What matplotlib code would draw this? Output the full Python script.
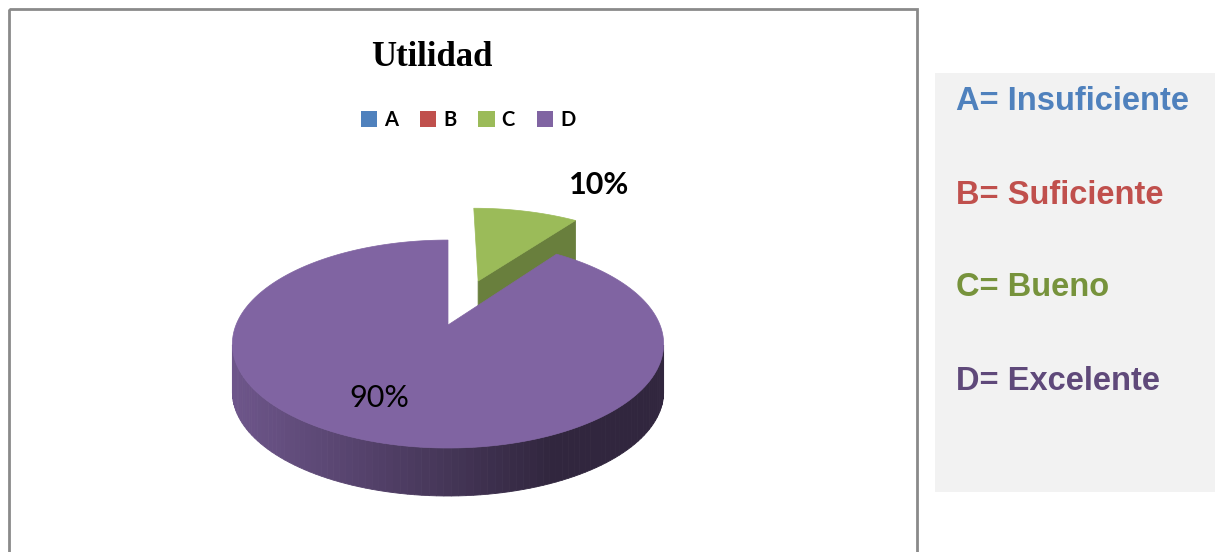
import matplotlib.pyplot as plt
from matplotlib.patches import Polygon, Rectangle, Patch
import numpy as np

# data
categories = ['A', 'B', 'C', 'D']
values = [0, 0, 10, 90]
explode = [0, 0, 0.5, 0]
colors = ['#4F81BD', '#C0504D', '#9BBB59', '#8064A2']
title = 'Utilidad'
key_labels = ['A= Insuficiente', 'B= Suficiente', 'C= Bueno', 'D= Excelente']
key_colors = ['#4F81BD', '#C0504D', '#77933C', '#5F497A']

# 3d pie geometry (pixel space)
cx, cy = 448, 325
A, B, k = 212, 100.5, 0.183
depth = 48


def proj(u, v):
    w = 1 + k * v
    return cx + A * u / w, cy - B * v / w


def shade(c, f):
    c = np.array(plt.matplotlib.colors.to_rgb(c))
    return tuple(np.clip(c * f, 0, 1))


fig = plt.figure(figsize=(12.15, 5.52), dpi=100)
ax = fig.add_axes([0, 0, 1, 1])
ax.set_xlim(0, 1215)
ax.set_ylim(552, 0)
ax.axis('off')

# chart frame and side panel
ax.add_patch(Rectangle((9, 9), 908, 560, fill=False, ec='#8a8a8a', lw=2))
ax.add_patch(Rectangle((935, 73), 290, 419, fc='#f2f2f2', ec='none'))

total = sum(values)
start = 0.0
slices = []
for cat, val, ex, col in zip(categories, values, explode, colors):
    if val == 0:
        continue
    sweep = 360.0 * val / total
    slices.append((cat, val, ex, col, start, start + sweep))
    start += sweep

# far slices first
slices.sort(key=lambda s: -np.cos(np.radians((s[4] + s[5]) / 2)) * (1 + s[2]))

for cat, val, ex, col, a0, a1 in slices:
    mid = np.radians((a0 + a1) / 2)
    ou, ov = ex * np.sin(mid), ex * np.cos(mid)
    th = np.radians(np.linspace(a0, a1, 200))
    us, vs = ou + np.sin(th), ov + np.cos(th)
    top = [proj(u, v) for u, v in zip(us, vs)]
    apex = proj(ou, ov)

    # outer side, only the front part
    for i in range(len(th) - 1):
        if np.cos(th[i]) < -k and np.cos(th[i + 1]) < -k:
            x0, y0 = top[i]
            x1, y1 = top[i + 1]
            t = np.clip(((x0 + x1) / 2 - (cx - A)) / (A * 1.5), 0, 1)
            c = shade(col, 0.85 - 0.47 * t)
            ax.add_patch(Polygon([(x0, y0), (x1, y1), (x1, y1 + depth), (x0, y0 + depth)],
                                 closed=True, fc=c, ec=c, lw=0.6))

    # radial face at end edge
    if -np.sin(th[-1]) < -1e-6:
        ex_, ey_ = top[-1]
        c = shade(col, 0.68)
        ax.add_patch(Polygon([apex, (ex_, ey_), (ex_, ey_ + depth), (apex[0], apex[1] + depth)],
                             closed=True, fc=c, ec=c, lw=0.6))
    # radial face at start edge
    if np.sin(th[0]) < -1e-6:
        sx_, sy_ = top[0]
        c = shade(col, 0.68)
        ax.add_patch(Polygon([apex, (sx_, sy_), (sx_, sy_ + depth), (apex[0], apex[1] + depth)],
                             closed=True, fc=c, ec=c, lw=0.6))

    ax.add_patch(Polygon([apex] + top, closed=True, fc=col, ec=col, lw=0.5))

    # data labels
    pct = f'{val / total * 100:.0f}%'
    if ex > 0:
        lm = mid + np.radians(12)
        lx, ly = proj(ou + 1.6 * np.sin(lm), ov + 1.6 * np.cos(lm))
        ax.text(lx, ly, pct, ha='center', va='center', fontsize=22,
                family='Lato', fontweight='bold', color='black')
    else:
        lm = mid + np.radians(6)
        lx, ly = proj(0.70 * np.sin(lm), 0.70 * np.cos(lm))
        ax.text(lx, ly, pct, ha='center', va='center', fontsize=22,
                family='Lato', color='black')

ax.text(432, 57, title, ha='center', va='center', fontsize=25,
        family='Liberation Serif', fontweight='bold')

handles = [Patch(fc=c, ec='none') for c in colors]
fig.legend(handles, categories, loc='center', bbox_to_anchor=(468 / 1215, 1 - 120 / 552),
           ncol=4, frameon=False, handlelength=0.8, handleheight=0.8,
           handletextpad=0.35, columnspacing=1.1,
           prop={'family': 'Lato', 'weight': 'bold', 'size': 14.5})

for i, (lab, c) in enumerate(zip(key_labels, key_colors)):
    ax.text(956, 102 + i * 93, lab, ha='left', va='center', fontsize=23.5,
            family='Liberation Sans', fontweight='bold', color=c)

fig.savefig('out.png', dpi=100)
